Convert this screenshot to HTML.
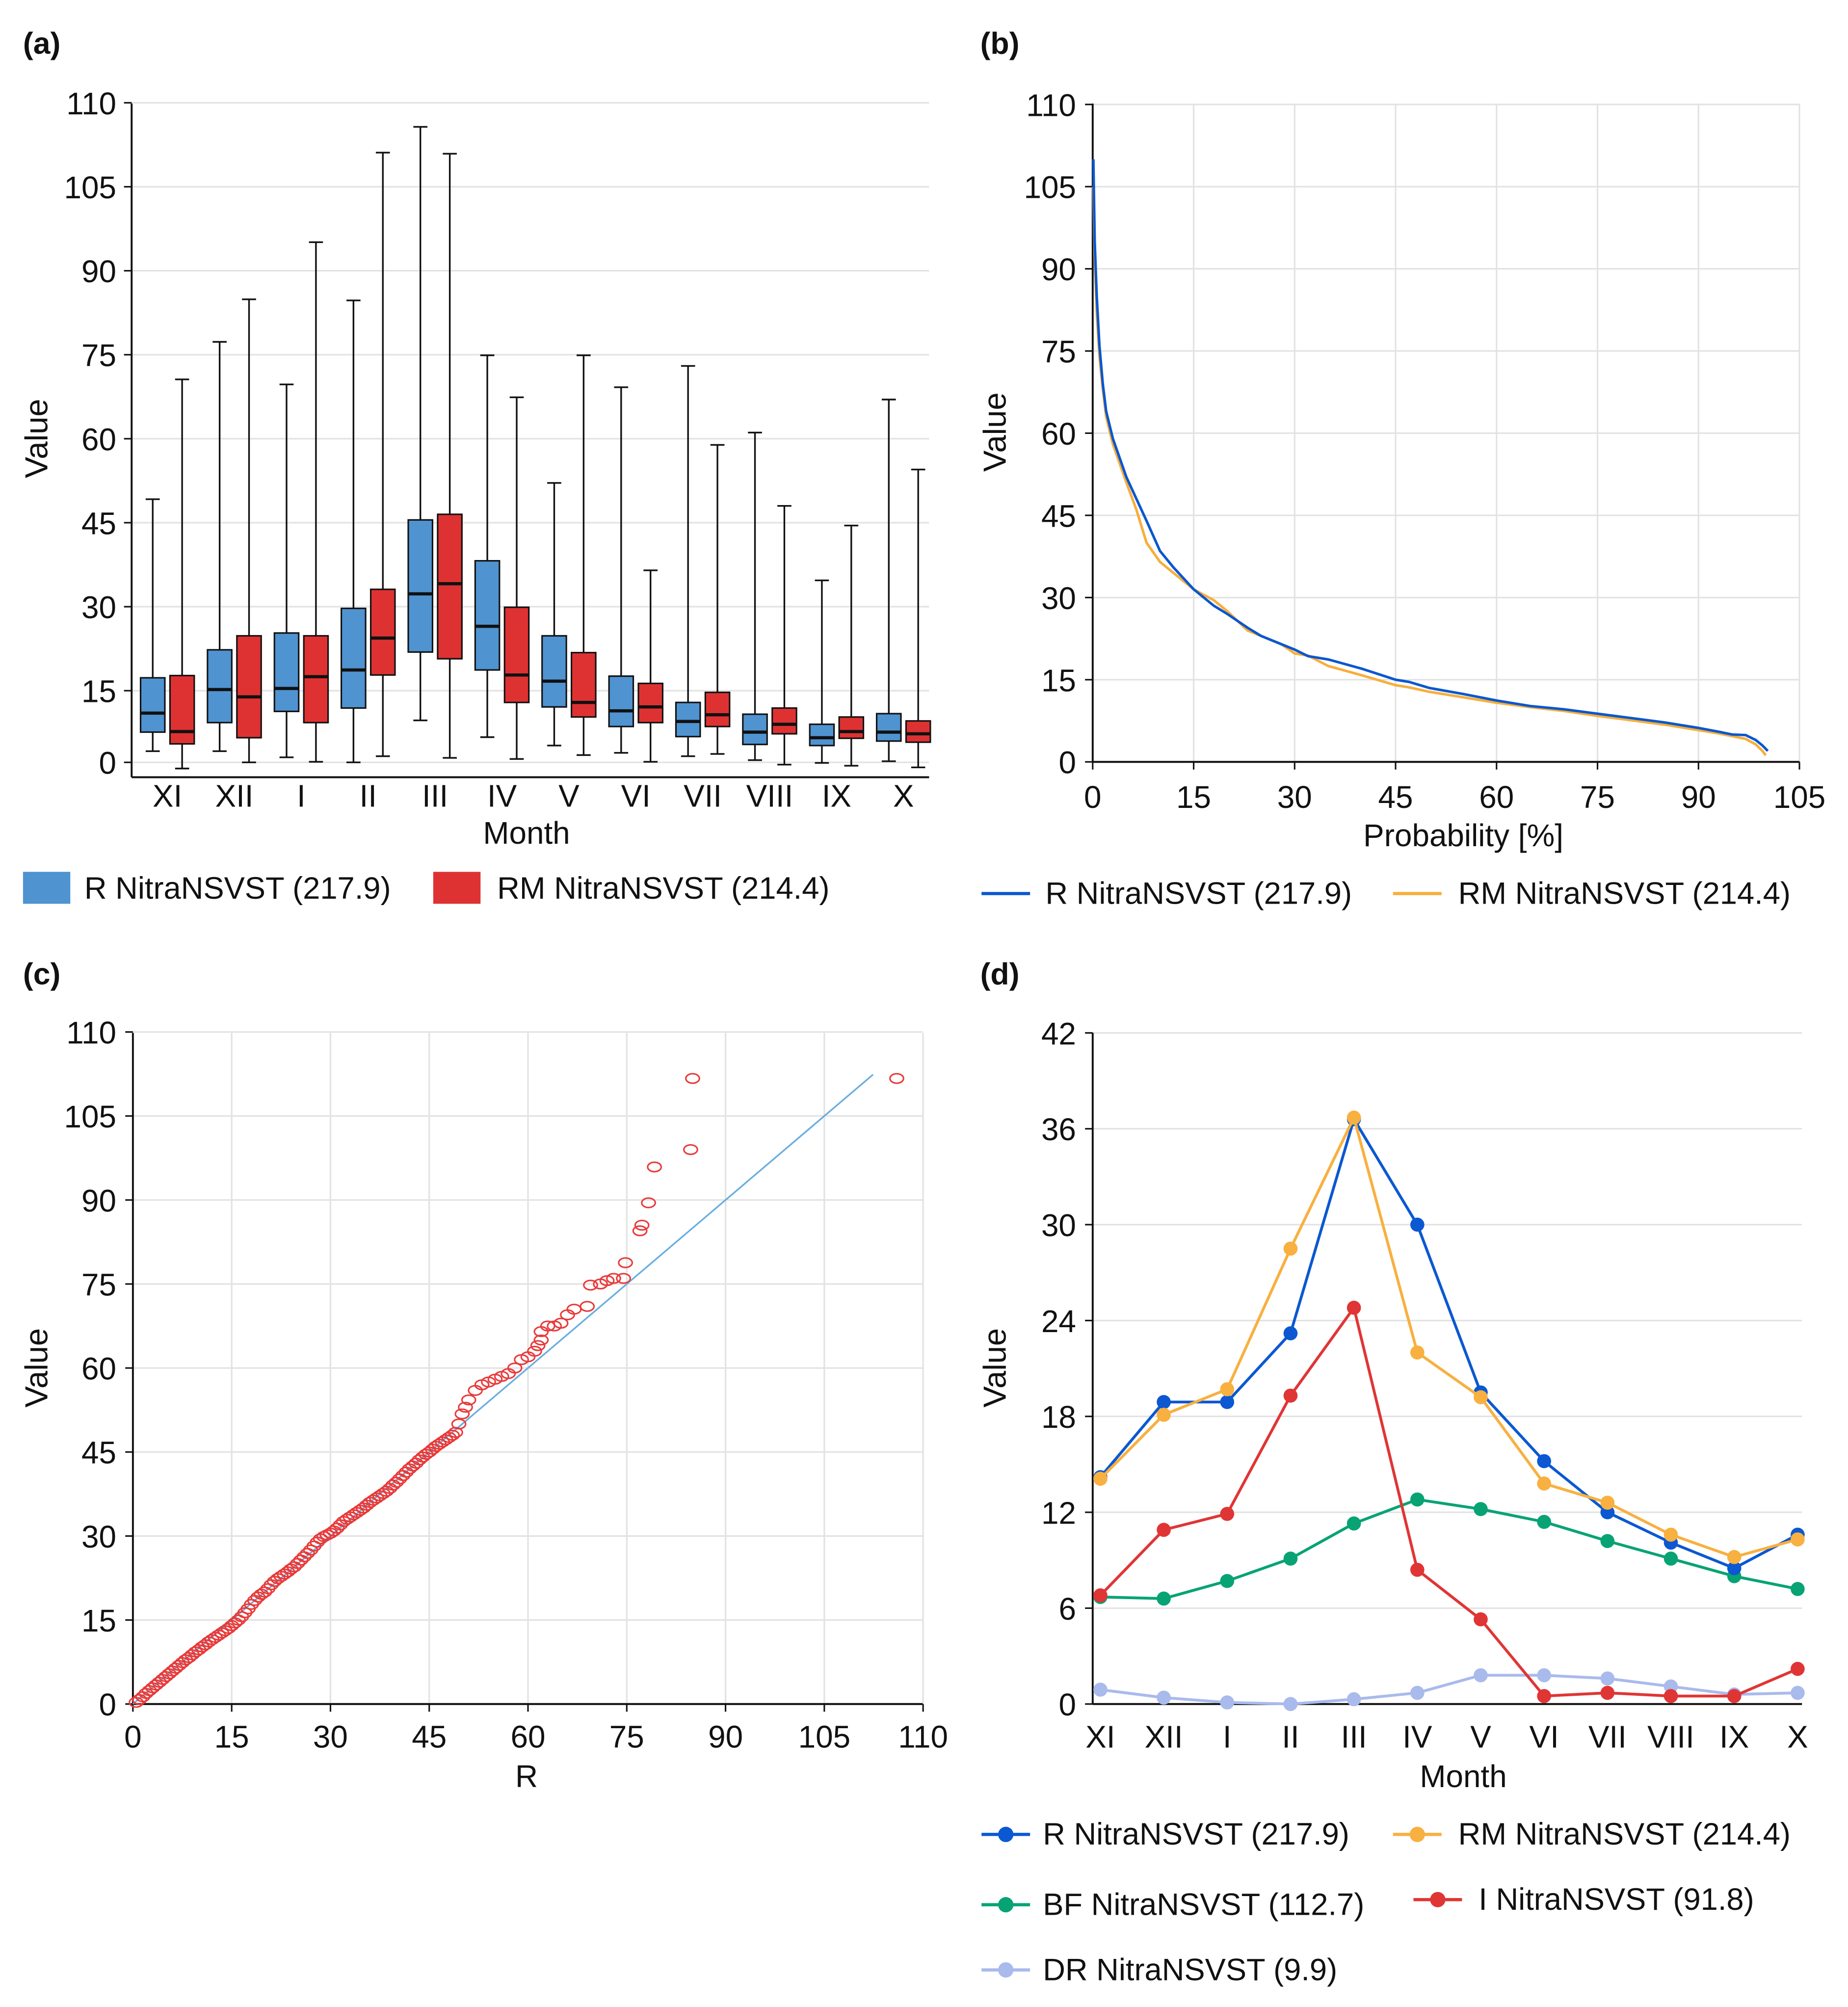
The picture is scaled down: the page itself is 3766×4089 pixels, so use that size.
<!DOCTYPE html>
<html><head><meta charset="utf-8"><style>
html,body{margin:0;padding:0;background:#fff;}
svg{display:block;}
text{font-family:"Liberation Sans",sans-serif;fill:#111;}
</style></head><body>
<svg id="fig" xmlns="http://www.w3.org/2000/svg" width="3766" height="4089" viewBox="0 0 1446 1570" preserveAspectRatio="none"></svg>
<script>
// ---------- data ----------
const months = ["XI","XII","I","II","III","IV","V","VI","VII","VIII","IX","X"];
// box plots (a): [max, q3, median, q1, min]
const boxR = [[49.2,17.3,11.0,7.6,4.2],[77.3,22.3,15.2,9.3,4.2],[69.7,25.3,15.4,11.3,3.1],[84.7,29.7,18.7,11.9,2.2],[115.7,45.5,32.3,21.9,9.7],[74.9,38.2,26.5,18.7,6.7],[52.1,24.8,16.7,12.1,5.2],[69.2,17.6,11.4,8.6,3.9],[73.0,12.9,9.5,6.8,3.3],[61.1,10.8,7.6,5.4,2.6],[34.7,9.0,6.6,5.2,2.1],[67.0,10.9,7.6,6.0,2.4]];
const boxRM = [[70.6,17.7,7.7,5.5,1.1],[84.9,24.8,13.9,6.6,2.2],[95.1,24.8,17.5,9.3,2.3],[111.1,33.1,24.4,17.8,3.3],[110.9,46.5,34.1,20.7,3.0],[67.4,29.9,17.8,12.9,2.8],[74.9,21.8,12.9,10.3,3.5],[36.5,16.3,12.1,9.3,2.3],[58.9,14.7,10.7,8.6,3.7],[48.0,11.9,9.0,7.3,1.8],[44.5,10.3,7.7,6.5,1.6],[54.5,9.6,7.3,5.8,1.3]];
const aTickVals = [2.2,15,30,45,60,75,90,105,120];
const aTickLabels = ["0","15","30","45","60","75","90","105","110"];
// exceedance (b)
const probR = [0.1,0.3,0.6,1,1.5,2,3,4,5,6.5,8,10,12,15,18,20,23,25,28,30,32,35,40,45,47,50,55,60,65,70,75,80,85,90,93,95,97,98.5,99.5,100.3];
const valR = [110,95,85,76,69,64,59,55.5,52,48,44,38.5,35.5,31.5,28.5,27,24.5,23,21.5,20.5,19.3,18.7,17,15,14.6,13.5,12.4,11.2,10.2,9.6,8.8,8,7.2,6.2,5.5,5,4.9,4,3,2];
const probRM = [0.1,0.3,0.6,1,1.5,2,3,4,5,6.5,8,10,12,15,18,20,23,25,28,30,32,35,40,45,47,50,55,60,65,70,75,80,85,90,93,95,97,98.5,99.5,100];
const valRM = [105,92,82,74,68,63,58,54.5,51,46,40,36.5,34.5,31.5,29.5,27.5,24,23,21.5,19.8,19.4,17.5,15.8,14,13.6,12.8,11.8,10.8,10,9.3,8.4,7.6,6.8,5.8,5.2,4.7,4.2,3.2,2,1.2];
const bTickVals = [0,15,30,45,60,75,90,105,120];
const bTickLabels = ["0","15","30","45","60","75","90","105","110"];
const bXTicks = [0,15,30,45,60,75,90,105];
// Q-Q (c)
const qqR = [0.5,1,1.5,2,2.5,3,3.5,4,4.5,5,5.5,6,6.5,7,7.5,8,8.5,9,9.5,10,10.5,11,11.5,12,12.5,13,13.5,14,14.5,15,15.5,16,16.5,17,17.5,18,18.5,19,19.5,20,
20.5,21,21.5,22,22.5,23,23.5,24,24.5,25,25.5,26,26.5,27,27.5,28,28.5,29,29.5,30,30.5,31,31.5,32,32.5,33,33.5,34,34.5,35,35.5,36,36.5,37,37.5,38,38.5,39,39.5,40,40.5,41,41.5,42,42.5,43,43.5,44,44.5,45,45.5,46,46.5,47,47.5,48,48.5,49,
49.5,50,50.5,51,52,53,54,55,56,57,58,59,60,61,61.5,62,62,63,64,65,66,67,69,69.5,71,72,73,74.5,74.8,77,77.3,78.3,79.2,84.7,85,116];
const qqRM = [0.3,0.8,1.3,1.9,2.4,2.9,3.4,3.9,4.4,4.9,5.4,5.9,6.4,6.9,7.4,7.9,8.3,8.8,9.3,9.7,10.2,10.6,11.1,11.5,11.9,12.3,12.7,13.1,13.5,14,14.5,15,15.6,16.3,17,17.8,18.5,19.1,19.6,20,
20.6,21.3,21.9,22.4,22.8,23.2,23.6,24.1,24.5,25.1,25.7,26.3,26.9,27.5,28.2,28.9,29.5,29.9,30.2,30.5,30.9,31.4,32,32.6,33,33.4,33.8,34.2,34.6,35,35.5,36,36.4,36.8,37.2,37.6,38,38.5,39.1,39.6,40.2,40.8,41.4,42,42.5,43,43.6,44.1,44.6,45,45.5,46,46.4,46.8,47.2,47.6,48,48.5,
50,51.8,53,54.3,56,57,57.5,58,58.5,59,60,61.5,62,63,64,65,66.5,67.5,67.5,68,69.5,70.5,71,74.8,75,75.6,76,76,78.8,84.5,85.5,89.5,95.9,99,111.7,111.7];
const qqLine = [0,112.4];
const cTickVals = [0,15,30,45,60,75,90,105,120];
const cTickLabels = ["0","15","30","45","60","75","90","105","110"];
// monthly means (d)
const dR = [14.2,18.9,18.9,23.2,36.6,30.0,19.5,15.2,12.0,10.1,8.5,10.6];
const dRM = [14.1,18.1,19.7,28.5,36.7,22.0,19.2,13.8,12.6,10.6,9.2,10.3];
const dBF = [6.7,6.6,7.7,9.1,11.3,12.8,12.2,11.4,10.2,9.1,8.0,7.2];
const dI = [6.8,10.9,11.9,19.3,24.8,8.4,5.3,0.5,0.7,0.5,0.5,2.2];
const dDR = [0.9,0.4,0.1,0.0,0.3,0.7,1.8,1.8,1.6,1.1,0.6,0.7];
const dTicks = [0,6,12,18,24,30,36,42];

// ---------- helpers ----------
const NS = "http://www.w3.org/2000/svg";
const svg = document.getElementById("fig");
const FT = 24.5, FL = 24.3;
function mk(tag, attrs, parent){
  const e = document.createElementNS(NS, tag);
  for (const k in attrs) e.setAttribute(k, attrs[k]);
  (parent||svg).appendChild(e);
  return e;
}
function txt(s, x, y, size, anchor, parent, weight){
  const t = mk("text", {x:x, y:y, "font-size":size, "text-anchor":anchor||"start", "font-weight":weight||"normal"}, parent);
  t.textContent = s;
  return t;
}
const GRID = "#e2e2e2";

// ---------- panel labels ----------
[["(a)",18,42],["(b)",767,42],["(c)",18,770],["(d)",767,770]].forEach(p=>{
  const t = txt(p[0], p[1], p[2], 24, "start", svg, "bold");
  
  
});

function yAxisTitle(x, y, g){
  const t = mk("text", {x:0, y:0, "font-size":25, "text-anchor":"middle", transform:"translate("+x+","+y+") rotate(-90)"}, g);
  t.textContent = "Value";
  
  
}

// ---------- (a) box plot ----------
(function(){
  const g = mk("g", {});
  
  
  const X0 = 103, X1 = 727, TOP = 81;
  const y = v => 606 - 4.38*v;
  const cx = i => 131 + i*52.36;
  aTickVals.forEach((v,i)=>{
    const l = mk("line", {x1:X0, x2:X1, y1:y(v), y2:y(v), stroke:GRID, "stroke-width":1.2}, g);
    
    
    mk("line", {x1:X0-6, x2:X0, y1:y(v), y2:y(v), stroke:"#111", "stroke-width":1.2}, g);
    const t = txt(aTickLabels[i], 91, y(v)+9, FT, "end", g);
    
    
  });
  mk("line", {x1:X0, x2:X0, y1:TOP, y2:608, stroke:"#111", "stroke-width":1.5}, g);
  mk("line", {x1:X0, x2:X1, y1:608, y2:608, stroke:"#111", "stroke-width":1.5}, g);
  function box(d, c, fill, name){
    const w = 19;
    const bg = mk("g", {}, g);
    
    
    mk("line", {x1:c, x2:c, y1:y(d[0]), y2:y(d[4]), stroke:"#111", "stroke-width":1.3}, bg);
    mk("line", {x1:c-5.5, x2:c+5.5, y1:y(d[0]), y2:y(d[0]), stroke:"#111", "stroke-width":1.3}, bg);
    mk("line", {x1:c-5.5, x2:c+5.5, y1:y(d[4]), y2:y(d[4]), stroke:"#111", "stroke-width":1.3}, bg);
    mk("rect", {x:c-w/2, y:y(d[1]), width:w, height:y(d[3])-y(d[1]), fill:fill, stroke:"#111", "stroke-width":1.2}, bg);
    mk("line", {x1:c-w/2, x2:c+w/2, y1:y(d[2]), y2:y(d[2]), stroke:"#111", "stroke-width":2.5}, bg);
  }
  months.forEach((m,i)=>{
    box(boxR[i], cx(i)-11.5, "#4f93d1", "box-r-"+m.toLowerCase());
    box(boxRM[i], cx(i)+11.5, "#de3232", "box-rm-"+m.toLowerCase());
    const t = txt(m, cx(i), 631, FT, "middle", g);
    
    
  });
  const xt = txt("Month", 412, 660, FT, "middle", g);
  
  
  yAxisTitle(37, 343, g);
  const l1 = mk("rect", {x:18, y:682, width:37, height:25, fill:"#4f93d1"}, g);
  
  
  const lt1 = txt("R NitraNSVST (217.9)", 66, 703, FL, "start", g);
  
  
  const l2 = mk("rect", {x:339, y:682, width:37, height:25, fill:"#de3232"}, g);
  
  
  const lt2 = txt("RM NitraNSVST (214.4)", 389, 703, FL, "start", g);
  
  
})();

// ---------- (b) exceedance ----------
(function(){
  const g = mk("g", {});
  
  
  const X0 = 855, X1 = 1408, TOP = 81, BOT = 596;
  const y = v => BOT - v*(BOT-146)/105;
  const x = p => X0 + p*(X1-X0)/105;
  bTickVals.forEach((v,i)=>{
    const l = mk("line", {x1:X0, x2:X1, y1:y(v), y2:y(v), stroke:GRID, "stroke-width":1.2}, g);
    
    
    mk("line", {x1:X0-6, x2:X0, y1:y(v), y2:y(v), stroke:"#111", "stroke-width":1.2}, g);
    const t = txt(bTickLabels[i], 842, y(v)+9, FT, "end", g);
    
    
  });
  bXTicks.forEach(p=>{
    mk("line", {x1:x(p), x2:x(p), y1:TOP, y2:BOT, stroke:GRID, "stroke-width":1.2}, g);
    mk("line", {x1:x(p), x2:x(p), y1:BOT, y2:BOT+6, stroke:"#111", "stroke-width":1.2}, g);
    const t = txt(String(p), x(p), 632, FT, "middle", g);
    
    
  });
  mk("line", {x1:X0, x2:X0, y1:TOP, y2:BOT, stroke:"#111", "stroke-width":1.5}, g);
  mk("line", {x1:X0, x2:X1, y1:BOT, y2:BOT, stroke:"#111", "stroke-width":1.5}, g);
  const pRM = mk("polyline", {points: probRM.map((p,i)=>x(p)+","+y(valRM[i])).join(" "), fill:"none", stroke:"#f7ae3c", "stroke-width":2}, g);
  
  
  const pR = mk("polyline", {points: probR.map((p,i)=>x(p)+","+y(valR[i])).join(" "), fill:"none", stroke:"#0a57cf", "stroke-width":2}, g);
  
  
  const xt = txt("Probability [%]", 1145, 662, FT, "middle", g);
  
  
  yAxisTitle(787, 338, g);
  mk("line", {x1:768, x2:806, y1:699, y2:699, stroke:"#0a57cf", "stroke-width":2.5}, g);
  const a = txt("R NitraNSVST (217.9)", 818, 707, FL, "start", g);
  
  
  mk("line", {x1:1090, x2:1128, y1:699, y2:699, stroke:"#f7ae3c", "stroke-width":2.5}, g);
  const b = txt("RM NitraNSVST (214.4)", 1141, 707, FL, "start", g);
  
  
})();

// ---------- (c) Q-Q ----------
(function(){
  const g = mk("g", {});
  
  
  const X0 = 104, X1 = 722, TOP = 808, BOT = 1333;
  const y = v => BOT - v*(BOT-873)/105;
  const x = v => X0 + v*(645-X0)/105;
  cTickVals.forEach((v,i)=>{
    mk("line", {x1:X0, x2:X1, y1:y(v), y2:y(v), stroke:GRID, "stroke-width":1.2}, g);
    mk("line", {x1:x(v), x2:x(v), y1:TOP, y2:BOT, stroke:GRID, "stroke-width":1.2}, g);
    mk("line", {x1:X0-6, x2:X0, y1:y(v), y2:y(v), stroke:"#111", "stroke-width":1.2}, g);
    mk("line", {x1:x(v), x2:x(v), y1:BOT, y2:BOT+6, stroke:"#111", "stroke-width":1.2}, g);
    const t = txt(cTickLabels[i], 91, y(v)+9, FT, "end", g);
    
    
    const t2 = txt(cTickLabels[i], x(v), 1367, FT, "middle", g);
    
    
  });
  mk("line", {x1:X0, x2:X0, y1:TOP, y2:BOT, stroke:"#111", "stroke-width":1.5}, g);
  mk("line", {x1:X0, x2:X1, y1:BOT, y2:BOT, stroke:"#111", "stroke-width":1.5}, g);
  const ref = mk("line", {x1:x(qqLine[0]), y1:y(qqLine[0]), x2:x(qqLine[1]), y2:y(qqLine[1]), stroke:"#6aaee0", "stroke-width":1.3}, g);
  
  
  qqR.forEach((v,i)=>{
    const e = mk("ellipse", {cx:x(v), cy:y(qqRM[i]), rx:5.3, ry:3.7, fill:"none", stroke:"#e83a3a", "stroke-width":1.2}, g);
    
    
  });
  const xt = txt("R", 412, 1398, FT, "middle", g);
  
  
  yAxisTitle(37, 1070, g);
})();

// ---------- (d) monthly lines ----------
(function(){
  const g = mk("g", {});
  
  
  const X0 = 855, X1 = 1410, TOP = 808, BOT = 1333;
  const y = v => BOT - v*(BOT-TOP)/42;
  const x = i => 861 + i*49.6;
  dTicks.forEach(v=>{
    mk("line", {x1:X0, x2:X1, y1:y(v), y2:y(v), stroke:GRID, "stroke-width":1.2}, g);
    mk("line", {x1:X0-6, x2:X0, y1:y(v), y2:y(v), stroke:"#111", "stroke-width":1.2}, g);
    const t = txt(String(v), 842, y(v)+9, FT, "end", g);
    
    
  });
  months.forEach((m,i)=>{
    const t = txt(m, x(i), 1367, FT, "middle", g);
    
    
  });
  mk("line", {x1:X0, x2:X0, y1:TOP, y2:BOT, stroke:"#111", "stroke-width":1.5}, g);
  mk("line", {x1:X0, x2:X1, y1:BOT, y2:BOT, stroke:"#111", "stroke-width":1.5}, g);
  function series(d, col, name){
    const sg = mk("g", {}, g);
    
    
    mk("polyline", {points: d.map((v,i)=>x(i)+","+y(v)).join(" "), fill:"none", stroke:col, "stroke-width":2.2}, sg);
    d.forEach((v,i)=>{
      const c = mk("circle", {cx:x(i), cy:y(v), r:5.5, fill:col}, sg);
      
      
    });
  }
  series(dDR, "#a9baec", "series-dr");
  series(dBF, "#07a374", "series-bf");
  series(dI, "#e03535", "series-i");
  series(dR, "#0b58d2", "series-r");
  series(dRM, "#f8b040", "series-rm");
  const xt = txt("Month", 1145, 1398, FT, "middle", g);
  
  
  yAxisTitle(787, 1070, g);
  function leg(x1, yy, col, label, tx, name){
    const lg = mk("g", {}, g);
    
    
    mk("line", {x1:x1, x2:x1+38, y1:yy, y2:yy, stroke:col, "stroke-width":2.5}, lg);
    mk("circle", {cx:x1+19, cy:yy, r:6, fill:col}, lg);
    txt(label, tx, yy+8, FL, "start", lg);
  }
  leg(768, 1435, "#0b58d2", "R NitraNSVST (217.9)", 816, "legend-entry-r");
  leg(1090, 1435, "#f8b040", "RM NitraNSVST (214.4)", 1141, "legend-entry-rm");
  leg(768, 1490, "#07a374", "BF NitraNSVST (112.7)", 816, "legend-entry-bf");
  leg(1106, 1486, "#e03535", "I NitraNSVST (91.8)", 1157, "legend-entry-i");
  leg(768, 1541, "#a9baec", "DR NitraNSVST (9.9)", 816, "legend-entry-dr");
})();
</script>
</body></html>
